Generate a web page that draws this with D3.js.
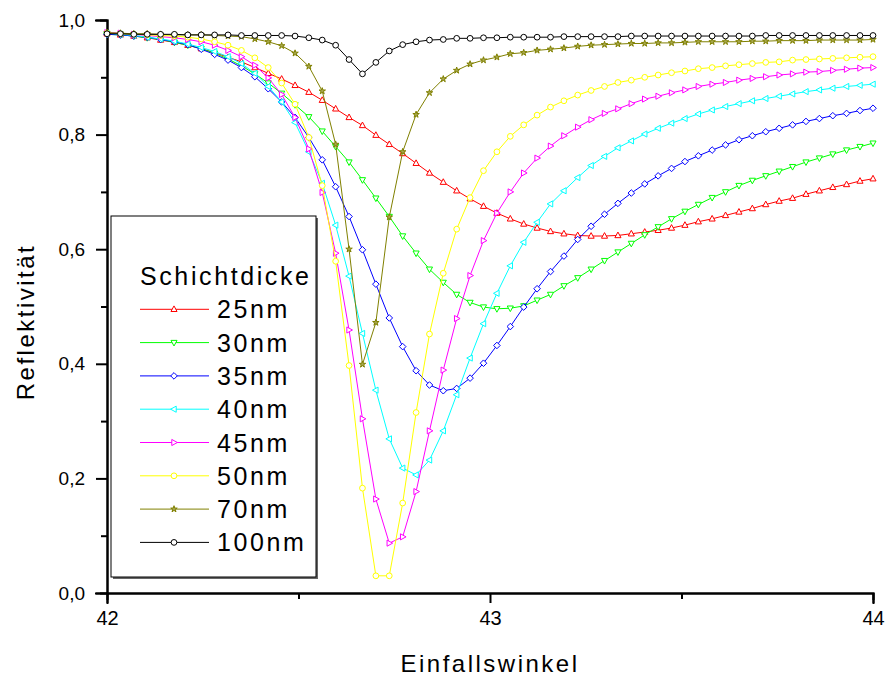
<!DOCTYPE html>
<html>
<head>
<meta charset="utf-8">
<script src="https://cdn.jsdelivr.net/npm/d3@7/dist/d3.min.js"></script>
<style>
  body { margin: 0; background: #fff; }
  svg { display: block; font-family: 'Liberation Sans', Arial, sans-serif; }
  .axis path, .axis line { stroke: #000; stroke-width: 2; }
  .axis text { font-size: 19px; fill: #000; }
  .x.axis text { font-size: 20px; }
  .title { font-size: 24px; letter-spacing: 2.5px; fill: #000; }
  .legend text { font-size: 25px; letter-spacing: 2.6px; fill: #000; }
</style>
</head>
<body>
<div id="chart"></div>
<script>
// angle of incidence (deg)
const angles = [42.000, 42.035, 42.070, 42.105, 42.140, 42.176, 42.211, 42.246, 42.281, 42.316,
  42.351, 42.386, 42.421, 42.456, 42.491, 42.527, 42.562, 42.597, 42.632, 42.667,
  42.702, 42.737, 42.772, 42.807, 42.842, 42.878, 42.913, 42.948, 42.983, 43.018,
  43.053, 43.088, 43.123, 43.158, 43.193, 43.229, 43.264, 43.299, 43.334, 43.369,
  43.404, 43.439, 43.474, 43.509, 43.544, 43.580, 43.615, 43.650, 43.685, 43.720,
  43.755, 43.790, 43.825, 43.860, 43.895, 43.931, 43.966, 44.000]

// reflectivity per layer thickness
const r25 = [0.976, 0.974, 0.972, 0.969, 0.965, 0.961, 0.956, 0.950, 0.943, 0.935,
  0.927, 0.917, 0.907, 0.897, 0.886, 0.874, 0.860, 0.845, 0.830, 0.816,
  0.799, 0.783, 0.767, 0.750, 0.733, 0.717, 0.702, 0.688, 0.675, 0.663,
  0.653, 0.644, 0.637, 0.631, 0.627, 0.624, 0.623, 0.623, 0.624, 0.627,
  0.630, 0.633, 0.637, 0.642, 0.648, 0.653, 0.659, 0.665, 0.671, 0.678,
  0.684, 0.689, 0.696, 0.702, 0.708, 0.713, 0.719, 0.723]
const r30 = [0.975, 0.974, 0.972, 0.969, 0.966, 0.961, 0.956, 0.950, 0.942, 0.932,
  0.920, 0.906, 0.890, 0.872, 0.852, 0.831, 0.806, 0.779, 0.752, 0.721,
  0.689, 0.657, 0.623, 0.593, 0.565, 0.542, 0.521, 0.507, 0.499, 0.496,
  0.497, 0.501, 0.511, 0.521, 0.536, 0.550, 0.565, 0.580, 0.595, 0.610,
  0.625, 0.639, 0.653, 0.666, 0.678, 0.690, 0.700, 0.711, 0.720, 0.728,
  0.736, 0.744, 0.752, 0.759, 0.766, 0.773, 0.779, 0.785]
const r35 = [0.975, 0.974, 0.972, 0.970, 0.966, 0.962, 0.957, 0.949, 0.940, 0.930,
  0.917, 0.901, 0.880, 0.857, 0.830, 0.795, 0.756, 0.709, 0.657, 0.599,
  0.539, 0.480, 0.430, 0.388, 0.363, 0.353, 0.357, 0.375, 0.401, 0.432,
  0.465, 0.499, 0.531, 0.561, 0.588, 0.617, 0.640, 0.661, 0.680, 0.698,
  0.714, 0.728, 0.741, 0.753, 0.763, 0.773, 0.782, 0.791, 0.798, 0.805,
  0.811, 0.817, 0.823, 0.828, 0.833, 0.837, 0.842, 0.846]
const r40 = [0.977, 0.975, 0.973, 0.970, 0.967, 0.963, 0.958, 0.952, 0.945, 0.936,
  0.924, 0.907, 0.884, 0.857, 0.821, 0.770, 0.715, 0.642, 0.553, 0.453,
  0.354, 0.269, 0.218, 0.206, 0.232, 0.283, 0.346, 0.410, 0.470, 0.523,
  0.571, 0.612, 0.647, 0.679, 0.702, 0.725, 0.746, 0.762, 0.777, 0.789,
  0.801, 0.811, 0.820, 0.828, 0.836, 0.843, 0.849, 0.854, 0.859, 0.863,
  0.867, 0.871, 0.875, 0.878, 0.881, 0.884, 0.886, 0.888]
const r45 = [0.978, 0.977, 0.975, 0.973, 0.971, 0.969, 0.966, 0.962, 0.956, 0.947,
  0.936, 0.921, 0.899, 0.870, 0.830, 0.775, 0.699, 0.593, 0.459, 0.304,
  0.164, 0.087, 0.098, 0.177, 0.283, 0.389, 0.479, 0.554, 0.615, 0.663,
  0.700, 0.733, 0.759, 0.780, 0.798, 0.813, 0.826, 0.837, 0.845, 0.854,
  0.862, 0.867, 0.873, 0.878, 0.884, 0.888, 0.891, 0.895, 0.898, 0.901,
  0.904, 0.906, 0.909, 0.910, 0.912, 0.914, 0.916, 0.917]
const r50 = [0.977, 0.976, 0.975, 0.974, 0.973, 0.972, 0.970, 0.967, 0.962, 0.956,
  0.947, 0.934, 0.917, 0.890, 0.853, 0.795, 0.711, 0.579, 0.397, 0.183,
  0.030, 0.030, 0.157, 0.315, 0.452, 0.558, 0.635, 0.690, 0.737, 0.770,
  0.797, 0.817, 0.834, 0.848, 0.859, 0.869, 0.877, 0.884, 0.891, 0.895,
  0.900, 0.904, 0.908, 0.911, 0.915, 0.917, 0.920, 0.922, 0.924, 0.926,
  0.927, 0.930, 0.931, 0.932, 0.933, 0.934, 0.935, 0.936]
const r70 = [0.978, 0.977, 0.976, 0.976, 0.975, 0.974, 0.974, 0.974, 0.973, 0.972,
  0.971, 0.967, 0.962, 0.955, 0.942, 0.919, 0.876, 0.783, 0.600, 0.399,
  0.472, 0.656, 0.770, 0.835, 0.873, 0.897, 0.912, 0.923, 0.930, 0.935,
  0.941, 0.943, 0.947, 0.949, 0.951, 0.954, 0.956, 0.957, 0.958, 0.959,
  0.959, 0.960, 0.960, 0.961, 0.962, 0.962, 0.962, 0.962, 0.963, 0.963,
  0.964, 0.964, 0.964, 0.965, 0.965, 0.965, 0.965, 0.966]
const r100 = [0.976, 0.976, 0.975, 0.975, 0.975, 0.975, 0.974, 0.974, 0.974, 0.974,
  0.973, 0.973, 0.973, 0.973, 0.972, 0.969, 0.965, 0.956, 0.931, 0.906,
  0.926, 0.946, 0.957, 0.962, 0.965, 0.966, 0.968, 0.968, 0.969, 0.969,
  0.970, 0.970, 0.970, 0.970, 0.971, 0.971, 0.971, 0.971, 0.971, 0.972,
  0.972, 0.972, 0.972, 0.972, 0.972, 0.972, 0.972, 0.972, 0.972, 0.973,
  0.973, 0.973, 0.973, 0.973, 0.973, 0.973, 0.973, 0.973]

const seriesNames = ['25nm', '30nm', '35nm', '40nm', '45nm', '50nm', '70nm', '100nm']
const seriesValues = [r25, r30, r35, r40, r45, r50, r70, r100]
const xTicks = [42, 43, 44]
const xMinor = [42.5, 43.5]
const yTicks = [0, 0.2, 0.4, 0.6, 0.8, 1.0]
const yMinor = [0.1, 0.3, 0.5, 0.7, 0.9]

const colors = ['#ff0000', '#00ff00', '#0000ff', '#00ffff', '#ff00ff', '#ffff00', '#808000', '#000000']
const markers = ['up', 'down', 'diamond', 'left', 'right', 'circle', 'star', 'circle']

const width = 888
const height = 677
const margin = {top: 20, right: 15, bottom: 84, left: 107}
const w = width - margin.left - margin.right
const h = height - margin.top - margin.bottom

const x = d3.scaleLinear().domain([42, 44]).range([0, w])
const y = d3.scaleLinear().domain([0, 1]).range([h, 0])

const svg = d3.select('#chart').append('svg')
    .attr('width', width)
    .attr('height', height)
const g = svg.append('g')
    .attr('transform', 'translate(' + margin.left + ',' + margin.top + ')')

function tri (dir, s) {
  // hollow triangle pointing in a direction
  const a = s, b = s * 0.9
  if (dir === 'up') return `M0,${-a}L${b},${a * 0.65}L${-b},${a * 0.65}Z`
  if (dir === 'down') return `M0,${a}L${b},${-a * 0.65}L${-b},${-a * 0.65}Z`
  if (dir === 'left') return `M${-a},0L${a * 0.65},${-b}L${a * 0.65},${b}Z`
  return `M${a},0L${-a * 0.65},${-b}L${-a * 0.65},${b}Z`
}

function markerPath (m) {
  if (m === 'diamond') return 'M0,-3.3L3.3,0L0,3.3L-3.3,0Z'
  if (m === 'circle') return d3.symbol(d3.symbolCircle, 26)()
  if (m === 'star') return d3.symbol(d3.symbolStar, 13)()
  return tri(m, 3.4)
}

function markerFill (k) {
  return markers[k] === 'star' ? '#a8a850' : '#fff'
}

// axes
const xAxis = d3.axisBottom(x).tickValues(xTicks).tickSize(10).tickPadding(8)
    .tickFormat(d3.format('d'))
const yAxis = d3.axisLeft(y).tickValues(yTicks).tickSize(11).tickPadding(11)
    .tickFormat(d => d3.format('.1f')(d).replace('.', ','))

g.append('g').attr('class', 'x axis minor')
    .attr('transform', 'translate(0,' + h + ')')
    .call(d3.axisBottom(x).tickValues(xMinor).tickSize(6).tickFormat(''))
g.append('g').attr('class', 'y axis minor')
    .call(d3.axisLeft(y).tickValues(yMinor).tickSize(6).tickFormat(''))
g.append('g').attr('class', 'x axis')
    .attr('transform', 'translate(0,' + h + ')')
    .call(xAxis)
g.append('g').attr('class', 'y axis')
    .call(yAxis)
g.selectAll('.axis path.domain').attr('stroke-linecap', 'square')

// curves
const line = d3.line()
    .x((d, i) => x(angles[i]))
    .y(d => y(d))

const curves = g.append('g').attr('class', 'curves')
seriesValues.forEach(function (vals, k) {
  const s = curves.append('g')
  s.append('path')
      .datum(vals)
      .attr('fill', 'none')
      .attr('stroke', colors[k])
      .attr('stroke-width', 1)
      .attr('d', line)
  s.selectAll('.pt').data(vals).enter().append('path')
      .attr('class', 'pt')
      .attr('transform', (d, i) => 'translate(' + x(angles[i]) + ',' + y(d) + ')')
      .attr('d', markerPath(markers[k]))
      .attr('fill', markerFill(k))
      .attr('stroke', colors[k])
      .attr('stroke-width', 1)
})

// axis titles
svg.append('text')
    .attr('class', 'title')
    .attr('text-anchor', 'middle')
    .attr('transform', 'translate(34,322)rotate(-90)')
    .text('Reflektivität')
svg.append('text')
    .attr('class', 'title')
    .attr('text-anchor', 'middle')
    .attr('x', 490)
    .attr('y', 672)
    .text('Einfallswinkel')

// legend
const lg = svg.append('g').attr('class', 'legend')
lg.append('rect')
    .attr('x', 113).attr('y', 218)
    .attr('width', 205).attr('height', 361)
    .attr('fill', '#666')
lg.append('rect')
    .attr('x', 111).attr('y', 216)
    .attr('width', 205).attr('height', 361)
    .attr('fill', '#fff')
    .attr('stroke', '#000')
    .attr('stroke-width', 1)
lg.append('text')
    .attr('x', 140).attr('y', 285)
    .text('Schichtdicke')
seriesNames.forEach(function (name, k) {
  const yy = 309.3 + k * 33.3
  lg.append('line')
      .attr('x1', 140).attr('x2', 209)
      .attr('y1', yy).attr('y2', yy)
      .attr('stroke', colors[k])
      .attr('stroke-width', 1)
  lg.append('path')
      .attr('transform', 'translate(174,' + yy + ')')
      .attr('d', markerPath(markers[k]))
      .attr('fill', markerFill(k))
      .attr('stroke', colors[k])
      .attr('stroke-width', 1)
  lg.append('text')
      .attr('x', 217).attr('y', yy + 9)
      .text(name)
})
</script>
</body>
</html>
